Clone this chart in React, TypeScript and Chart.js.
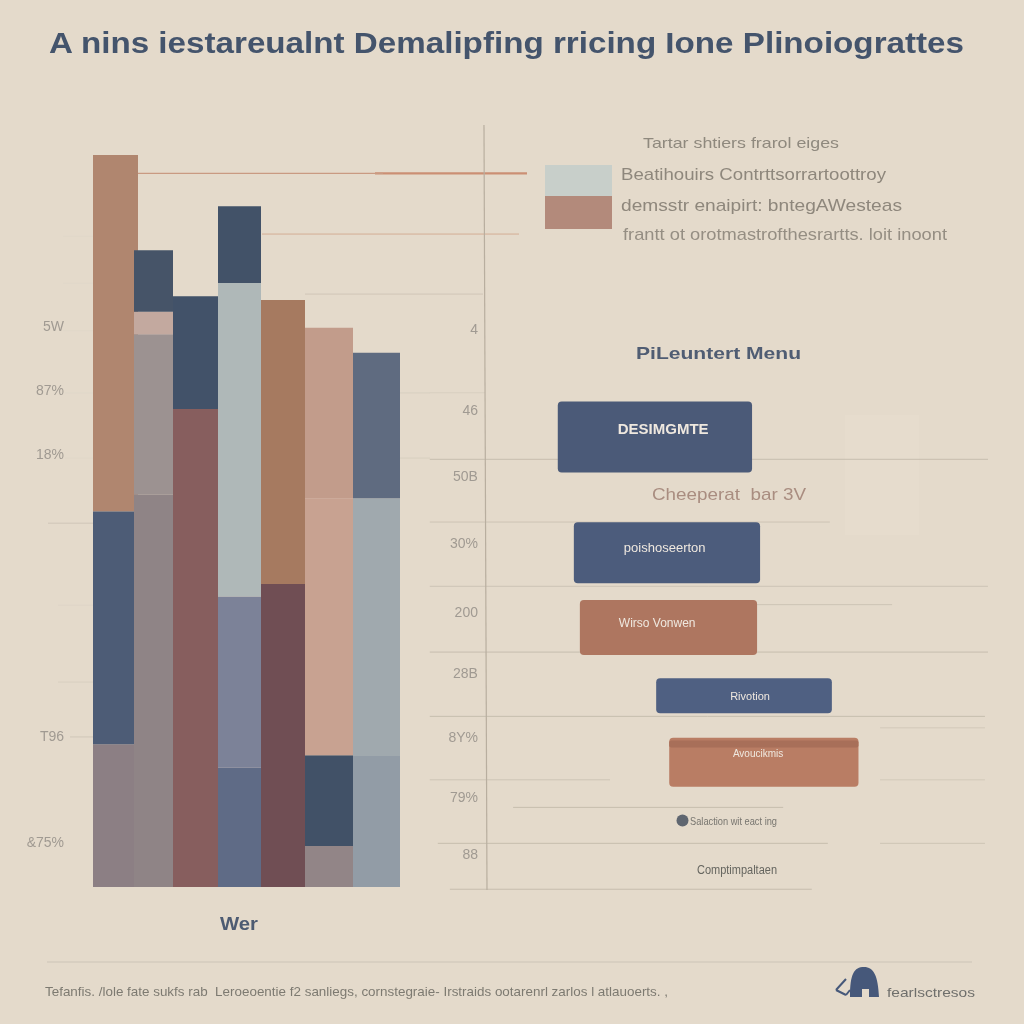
import React, { useEffect, useLayoutEffect, useRef } from "react";
import { Chart, registerables } from "chart.js";

Chart.register(...registerables);
Chart.defaults.font.family = '"Liberation Sans", Arial, sans-serif';

// ---------- left panel: stacked columns ----------
const columnEdges = [0, 41, 80, 125, 168, 212, 260, 307];
const columnStacks = [
  [0, 19.5, 51.3, 100],
  [0, 53.6, 75.5, 78.6, 87],
  [0, 65.3, 80.7],
  [0, 16.3, 39.7, 82.5, 93],
  [0, 41.4, 80.2],
  [0, 5.6, 18, 53.1, 76.4],
  [0, 17.9, 53.1, 73],
];
const columnColours = [
  ["#8c7f84", "#4d5c76", "#b0866f"],
  ["#8f8486", "#9c9291", "#c3a99f", "#465468"],
  ["#875e5e", "#425269"],
  ["#5f6b86", "#7c8298", "#afb8b8", "#425268"],
  ["#704e54", "#a67a60"],
  ["#928587", "#415167", "#c8a291", "#c29c8b"],
  ["#929ca6", "#a0a9ae", "#5f6b80"],
];
const firstColumnTopOverhang = 4;
const leftTickValues = [76.5, 67.8, 59, 20.5, 6];
const leftTickLabels = ["5W", "87%", "18%", "T96", "&75%"];
const leftGuides = [
  { y: 97.5, from: 45, to: 290, colour: "#c99a82", width: 1.2 },
  { y: 97.5, from: 282, to: 434, colour: "#cb8f74", width: 2.2 },
  { y: 89.2, from: 169, to: 426, colour: "#d3ad96", width: 1 },
  { y: 81, from: 212, to: 390, colour: "#d0c6b7", width: 1 },
  { y: 88.9, from: -30, to: 0, colour: "#e0d7c9", width: 1 },
  { y: 82.5, from: -30, to: 0, colour: "#e0d7c9", width: 1 },
  { y: 76, from: -30, to: 0, colour: "#e0d7c9", width: 1 },
  { y: 67.5, from: -28, to: 0, colour: "#e0d7c9", width: 1 },
  { y: 58.6, from: -28, to: 0, colour: "#e0d7c9", width: 1 },
  { y: 49.7, from: -45, to: 0, colour: "#cfc6b8", width: 1 },
  { y: 38.5, from: -35, to: 0, colour: "#ded5c7", width: 1 },
  { y: 28, from: -35, to: 0, colour: "#d8cfc0", width: 1 },
  { y: 20.5, from: -23, to: 0, colour: "#cfc6b8", width: 1 },
  { y: 67.5, from: 307, to: 337, colour: "#d8cfc0", width: 1 },
  { y: 58.6, from: 307, to: 337, colour: "#d8cfc0", width: 1 },
];

// ---------- right panel: horizontal ranges ----------
const rangeRows = [40.8, 55.9, 65.7, 74.6, 83.3, 80.9];
const rangeFrom = [14.5, 17.7, 18.9, 34.1, 36.7, 36.7];
const rangeTo = [53.2, 54.8, 54.2, 69.1, 74.4, 74.4];
const rangeThickness = [71, 61, 55, 35, 49, 7];
const rangeColours = ["#4b5a78", "#4c5c7c", "#ae7660", "#4f6082", "#b97d64", "#a86f59"];
const rangeLabels = ["DESIMGMTE", "poishoseerton", "Wirso Vonwen", "Rivotion", "Avoucikmis"];
const rangeLabelX = [35.5, 35.8, 34.3, 52.8, 54.4];
const rangeLabelY = [39.9, 55.3, 65.2, 74.8, 82.2];
const rangeLabelSize = [15, 13, 12, 11, 10];
const rightTickValues = [26.8, 37.4, 46, 54.8, 63.8, 71.8, 80.1, 88, 95.4];
const rightTickLabels = ["4", "46", "50B", "30%", "200", "28B", "8Y%", "79%", "88"];
const rightGuides = [
  { y: 35, from: -11, to: 0, colour: "#d8cfc0" },
  { y: 43.7, from: -11, to: 100.2, colour: "#c6bdae" },
  { y: 51.9, from: -11, to: 68.7, colour: "#cdc4b5" },
  { y: 60.3, from: -11, to: 100.2, colour: "#cdc4b5" },
  { y: 62.7, from: 54.2, to: 81.1, colour: "#cdc4b5" },
  { y: 68.9, from: -11, to: 100.2, colour: "#c6bdae" },
  { y: 77.3, from: -11, to: 99.6, colour: "#c6bdae" },
  { y: 78.8, from: 78.7, to: 99.6, colour: "#d2c9ba" },
  { y: 85.6, from: -11, to: 24.9, colour: "#cdc4b5" },
  { y: 85.6, from: 78.7, to: 99.6, colour: "#d2c9ba" },
  { y: 89.2, from: 5.6, to: 59.4, colour: "#c6bdae" },
  { y: 93.9, from: -9.4, to: 68.3, colour: "#c6bdae" },
  { y: 93.9, from: 78.7, to: 99.6, colour: "#cdc4b5" },
  { y: 99.9, from: -7, to: 65.1, colour: "#c6bdae" },
];

// ---------- text ----------
const BG = "#e4dacb";
const texts = [
  { t: "A nins iestareualnt Demalipfing rricing Ione Plinoiograttes", x: 49, w: 915, y: 43, s: 30, b: 700, c: "#44546c" },
  { t: "Tartar shtiers frarol eiges", x: 643, w: 196, y: 142, s: 15, b: 400, c: "#8f897e" },
  { t: "Beatihouirs Contrttsorrartoottroy", x: 621, w: 265, y: 174, s: 17, b: 400, c: "#8e877c" },
  { t: "demsstr enaipirt: bntegAWesteas", x: 621, w: 281, y: 205, s: 17, b: 400, c: "#8e877c" },
  { t: "frantt ot orotmastrofthesrartts. loit inoont", x: 623, w: 324, y: 234, s: 17, b: 400, c: "#958e83" },
  { t: "PiLeuntert Menu", x: 636, w: 165, y: 353, s: 17, b: 700, c: "#505d73" },
  { t: "Cheeperat  bar 3V", x: 652, w: 154, y: 494, s: 17, b: 400, c: "#a98d80" },
  { t: "Salaction wit eact ing", x: 690, w: 87, y: 821, s: 11, b: 400, c: "#77756f" },
  { t: "Comptimpaltaen", x: 697, w: 80, y: 870, s: 12, b: 400, c: "#65655f" },
  { t: "Wer", x: 220, w: 38, y: 923, s: 19, b: 700, c: "#4d5b72" },
  { t: "Tefanfis. /lole fate sukfs rab  Leroeoentie f2 sanliegs, cornstegraie- Irstraids ootarenrl zarlos l atlauoerts. ,", x: 45, w: 623, y: 991, s: 13, b: 400, c: "#7d7a71" },
  { t: "fearlsctresos", x: 887, w: 88, y: 992, s: 13, b: 400, c: "#6f6f6c" },
];

function FitText({ t, x, w, y, s, b, c }: any) {
  const ref = useRef<HTMLDivElement>(null);
  useLayoutEffect(() => {
    const el = ref.current!;
    const natural = el.getBoundingClientRect().width;
    el.style.transform = `scaleX(${w / natural})`;
  }, [w]);
  return (
    <div
      ref={ref}
      style={{
        position: "absolute", left: x, top: y - s / 2, fontSize: s, lineHeight: `${s}px`, fontWeight: b, color: c,
        fontFamily: '"Liberation Sans", Arial, sans-serif', whiteSpace: "pre", transformOrigin: "left center",
      }}
    >
      {t}
    </div>
  );
}

const setTicks = (values: number[]) => (scale: any) => {
  scale.ticks = values.map((value) => ({ value }));
};
const labelFor = (values: number[], labels: string[]) => (v: any) => labels[values.indexOf(v)] ?? "";

function guideDataset(g: any, order: number) {
  return {
    type: "line", data: [{ x: g.from, y: g.y }, { x: g.to, y: g.y }], borderColor: g.colour,
    borderWidth: g.width ?? 1, pointRadius: 0, order, clip: false,
  };
}

function leftDatasets() {
  const out: any[] = [];
  let order = 1000;
  columnStacks.forEach((stack, i) => {
    for (let j = 0; j < stack.length - 1; j++) {
      const over = i === 0 && j === stack.length - 2 ? firstColumnTopOverhang : 0;
      const lo = columnEdges[i];
      const hi = columnEdges[i + 1] + over;
      out.push({
        type: "bar", grouped: false, barPercentage: 100, maxBarThickness: hi - lo,
        data: [{ x: (lo + hi) / 2, y: [stack[j], stack[j + 1]] }],
        backgroundColor: columnColours[i][j], borderWidth: 0, order: order - (over ? -200 : 0),
      });
      order--;
    }
  });
  leftGuides.forEach((g) => out.push(guideDataset(g, 2000)));
  return out;
}

function rightDatasets() {
  const out: any[] = [];
  rangeRows.forEach((row, i) => {
    out.push({
      type: "bar", indexAxis: "y", grouped: false, barPercentage: 100, maxBarThickness: rangeThickness[i],
      data: [{ y: row, x: [rangeFrom[i], rangeTo[i]] }], backgroundColor: rangeColours[i],
      borderWidth: 0, borderRadius: i === 5 ? 2 : 4, borderSkipped: false, order: 100 - i,
    });
  });
  rightGuides.forEach((g) => out.push(guideDataset(g, 2000)));
  out.push({
    type: "line", data: [{ x: -0.2, y: 0 }, { x: 0.4, y: 100 }], borderColor: "#b8ae9f", borderWidth: 1.2,
    pointRadius: 0, order: 1500, clip: false,
  });
  return out;
}

const rangeLabelPlugin = {
  id: "rangeLabels",
  afterDatasetsDraw(chart: any) {
    const { ctx, scales } = chart;
    ctx.save();
    ctx.textAlign = "center";
    ctx.textBaseline = "middle";
    rangeLabels.forEach((label, i) => {
      ctx.font = `${i === 0 ? 700 : 400} ${rangeLabelSize[i]}px "Liberation Sans", Arial, sans-serif`;
      ctx.fillStyle = "#efe8df";
      ctx.fillText(label, scales.x.getPixelForValue(rangeLabelX[i]), scales.y.getPixelForValue(rangeLabelY[i]));
    });
    ctx.restore();
  },
};

const canvasStyle: React.CSSProperties = { position: "absolute", left: 0, top: 0, width: 1024, height: 1024 };

export default function App() {
  const leftRef = useRef<HTMLCanvasElement>(null);
  const rightRef = useRef<HTMLCanvasElement>(null);

  useEffect(() => {
    document.body.style.margin = "0";
    document.body.style.background = BG;
    const common = {
      responsive: false, animation: false as const,
      plugins: { legend: { display: false }, title: { display: false }, tooltip: { enabled: false } },
    };
    const left = new Chart(leftRef.current!, {
      type: "bar",
      data: { datasets: leftDatasets() },
      options: {
        ...common,
        layout: { autoPadding: false, padding: { left: 30, top: 155, right: 1024 - 530, bottom: 1024 - 887 } },
        scales: {
          x: { type: "linear", min: -63, max: 437, display: false, offset: false, grid: { display: false } },
          y: {
            type: "linear", min: 0, max: 100, offset: false, position: { x: -29 } as any,
            grid: { display: false }, border: { display: false },
            afterBuildTicks: setTicks(leftTickValues),
            ticks: { callback: labelFor(leftTickValues, leftTickLabels), color: "#a09a92", font: { size: 14 }, autoSkip: false, maxRotation: 0 },
          },
        },
      } as any,
    } as any);
    const right = new Chart(rightRef.current!, {
      type: "bar",
      data: { datasets: rightDatasets() },
      plugins: [rangeLabelPlugin],
      options: {
        ...common,
        layout: { autoPadding: false, padding: { left: 400, top: 125, right: 1024 - 990, bottom: 1024 - 890 } },
        scales: {
          x: { type: "linear", min: -16.93, max: 100.6, display: false, offset: false, grid: { display: false } },
          y: {
            type: "linear", min: 0, max: 100, reverse: true, offset: false, position: { x: -1.4 } as any,
            grid: { display: false, offset: false }, border: { display: false },
            afterBuildTicks: setTicks(rightTickValues),
            ticks: { callback: labelFor(rightTickValues, rightTickLabels), color: "#a09a92", font: { size: 14 }, autoSkip: false, maxRotation: 0 },
          },
        },
      } as any,
    } as any);
    return () => {
      left.destroy();
      right.destroy();
    };
  }, []);

  return (
    <div style={{ position: "absolute", left: 0, top: 0, width: 1024, height: 1024, overflow: "hidden", background: BG }}>
      <div style={{ position: "absolute", left: 845, top: 415, width: 74, height: 120, background: "#e6dccd" }} />
      <canvas ref={leftRef} width={1024} height={1024} style={canvasStyle} />
      <canvas ref={rightRef} width={1024} height={1024} style={canvasStyle} />
      <div style={{ position: "absolute", left: 545, top: 165, width: 67, height: 31, background: "#c8cfca" }} />
      <div style={{ position: "absolute", left: 545, top: 196, width: 67, height: 33, background: "#b38a7b" }} />
      <div style={{ position: "absolute", left: 47, top: 961, width: 925, height: 2, background: "#d8cfc1" }} />
      <svg style={{ position: "absolute", left: 834, top: 964, width: 50, height: 38 }} viewBox="0 0 50 38">
        <path d="M16 33 C16 10 20 3 30 3 C40 3 44 12 45 33 L35 33 L35 25 L28 25 L28 33 Z" fill="#46587a" />
        <path d="M2 26 L12 15 M2 26 L12 31 M12 31 L16 26" stroke="#46587a" strokeWidth="2" fill="none" />
      </svg>
      <svg style={{ position: "absolute", left: 676, top: 814, width: 13, height: 13 }} viewBox="0 0 13 13">
        <circle cx="6.5" cy="6.5" r="6" fill="#5f6670" />
      </svg>
      {texts.map((x, i) => (
        <FitText key={i} {...x} />
      ))}
    </div>
  );
}
